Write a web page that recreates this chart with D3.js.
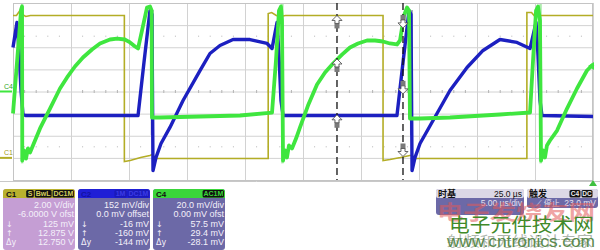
<!DOCTYPE html>
<html><head><meta charset="utf-8">
<script src="https://cdn.jsdelivr.net/npm/d3@7"></script>
<style>body{margin:0;background:#fff;}svg{display:block;}</style>
</head><body>
<svg id="chart" width="600" height="250"></svg>
<script>
// ---------------- DATA (time in µs, 5 µs/div) ----------------
// C1 (yellow) volts
const c1Time  = [0,0.3,0.6,0.8,1.1,1.5,9.6,9.6,10.1,11,11.8,12,12.3,12.7,22,22,22.3,22.7,23,23.5,31.9,31.9,32.5,33.4,34.2,34.4,34.7,44.3,44.3,44.7,45,45.4,50];
const c1Volts = [12.87,12.87,13.32,12.96,12.78,12.87,12.87,-0.33,-0.24,0.03,0.21,0.3,-0.06,-0.06,-0.06,13.05,13.14,12.87,12.78,12.87,12.87,-0.24,-0.15,0.03,0.21,0.21,-0.06,-0.06,13.14,13.14,12.78,12.87,12.87];
// C2 (blue) mV
const c2Time = [0,0.34,0.52,0.69,0.86,1.12,10.78,11.29,11.81,11.98,12.07,12.33,12.76,13.53,14.66,16.12,16.98,17.84,18.97,20.43,21.9,22.33,22.76,22.93,23.1,23.28,33.1,33.62,34.14,34.31,34.4,34.66,35.09,36.21,37.67,39.14,40.52,41.98,43.45,44.57,45.09,45.26,45.43,45.6,50];
const c2mV   = [302,474,282,7,-158,-165,-165,199,556,529,-543,-453,-357,-247,-62,144,261,316,357,357,330,295,474,247,-62,-165,-165,199,556,529,-543,-453,-357,-199,7,165,282,357,337,295,474,247,-62,-165,-172];
// C4 (green) mV
const c4Time = [0,0.7,0.78,0.8,0.95,1.12,1.29,1.47,1.72,2.33,3.19,4.05,4.66,5.34,6.03,6.81,7.5,8.36,8.97,9.66,10.09,10.52,10.78,11.12,11.55,11.81,11.95,11.98,12.67,16.12,19.57,22.33,22.67,22.93,23.1,23.19,23.28,23.45,23.62,23.79,24.05,24.4,24.74,25.43,26.21,26.9,27.59,28.36,29.05,29.74,30.52,31.21,31.9,32.5,33.1,33.36,33.71,33.97,34.14,34.22,35.09,37.67,41.98,44.57,44.83,45.09,45.26,45.43,45.52,45.69,45.86,46.03,46.29,46.9,47.76,48.62,49.48,50];
const c4mV   = [-19.9,74.1,76.8,-62.4,-53.3,-60.6,-51.5,-55.1,-48.8,-33.4,-15.4,2.7,12.7,22.6,30.7,38.0,43.4,47.0,47.9,47.0,44.3,40.7,38.9,55.1,75.9,76.8,73.2,-23.5,-23.5,-22.6,-21.7,-19.0,28.0,73.2,76.8,64.2,-62.4,-53.3,-59.7,-48.8,-51.5,-42.5,-32.5,-12.7,6.3,17.2,25.3,33.4,39.8,43.4,46.1,46.1,45.2,43.4,42.5,46.1,68.7,75.9,73.2,-24.4,-24.4,-23.5,-20.8,-19.0,28.0,73.2,76.8,64.2,-62.4,-53.3,-59.7,-48.8,-44.3,-35.3,-15.4,2.7,19.0,24.4];
// fast edges (drawn faint)
const c2FastEdges = [12.0, 34.35];
const c4FastEdges = [0.79, 23.22, 45.48];
// cursors
const cursorTimes = [27.93, 33.62];          // ↑ cursor, ↓ cursor
const cursorC1 = [12.875, 0.125];            // V
const cursorC2 = [-160, -16];                // mV
const cursorC4 = [29.4, 57.5];               // mV
const triggerLevelC4 = 23.0;                 // mV
// info panel texts
const c1Rows = ["2.00 V/div","-6.0000 V ofst","125 mV","12.875 V","12.750 V"];
const c2Rows = ["152 mV/div","0.0 mV offset","-16 mV","-160 mV","-144 mV"];
const c4Rows = ["20.0 mV/div","0.00 mV ofst","57.5 mV","29.4 mV","-28.1 mV"];
const rowIcons = ["","","↓","↑","Δy"];
const c1Tags = ["S","BwL","DC1M"];
const c2Tags = ["1M","DC1M"];
const c4Tags = ["AC1M"];
const timebaseTexts = ["时基","25.0 µs","5.00 µs/div"];
const triggerTexts = ["触发","C4","DC","停止","23.0 mV"];

// ---------------- DRAW ----------------
const svg = d3.select("#chart");
const L=13, R=593, T=3, B=180;
const x = d3.scaleLinear().domain([0,50]).range([L,R]);
const yDiv = d3.scaleLinear().domain([-4,4]).range([B,T]);
const yC1 = d3.scaleLinear().domain([-2,14]).range([B,T]);
const yC2 = d3.scaleLinear().domain([-608,608]).range([B,T]);
const yC4 = d3.scaleLinear().domain([-80,80]).range([B,T]);

// grid
const gx = svg.append("g").attr("transform",`translate(0,${B})`)
  .call(d3.axisBottom(x).tickValues(d3.range(0,51,5)).tickSize(-(B-T)).tickFormat(""));
const gy = svg.append("g").attr("transform",`translate(${L},0)`)
  .call(d3.axisLeft(yDiv).tickValues(d3.range(-4,5,1)).tickSize(-(R-L)).tickFormat(""));
[gx,gy].forEach(g=>{g.select(".domain").remove();g.selectAll("line").attr("stroke","#d2d2d2").attr("stroke-width",1);});
// minor dots
const minor = [];
d3.range(0,50.01,1).forEach(t=>{ if(t%5!==0){ [2.5,0,-2.5].forEach(d=>minor.push([t,d])); }});
svg.append("g").selectAll("rect").data(minor).join("rect")
  .attr("x",d=>x(d[0])-0.5).attr("y",d=>yDiv(d[1])-(d[1]===0?1.5:0.5))
  .attr("width",1).attr("height",d=>d[1]===0?3:1).attr("fill","#b4b4b4");
svg.append("rect").attr("x",L+0.5).attr("y",T+0.5).attr("width",R-L-1).attr("height",B-T)
  .attr("fill","none").attr("stroke","#c4c4c4");
svg.append("line").attr("x1",0).attr("x2",600).attr("y1",181.5).attr("y2",181.5).attr("stroke","#c8c8c8");

// faint fast edges
svg.append("g").selectAll("line").data(c2FastEdges).join("line")
  .attr("x1",d=>x(d)).attr("x2",d=>x(d)).attr("y1",yC2(560)).attr("y2",yC2(-300))
  .attr("stroke","#8d93a8").attr("stroke-width",3).attr("opacity",0.8);
svg.append("g").selectAll("line").data(c4FastEdges).join("line")
  .attr("x1",d=>x(d)).attr("x2",d=>x(d)).attr("y1",T+1).attr("y2",yC4(-65))
  .attr("stroke","#a6eaa6").attr("stroke-width",2.5).attr("opacity",0.9);

const mk = (ts,vs)=>ts.map((t,i)=>[t,vs[i]]);
const line = (ys)=>d3.line().x(d=>x(d[0])).y(d=>ys(d[1]));
svg.append("path").datum(mk(c1Time,c1Volts)).attr("d",line(yC1))
  .attr("fill","none").attr("stroke","#b3ad26").attr("stroke-width",1.6);
svg.append("path").datum(mk(c2Time,c2mV)).attr("d",line(yC2))
  .attr("fill","none").attr("stroke","#1c20c0").attr("stroke-width",3.4).attr("stroke-linejoin","round");
svg.append("path").datum(mk(c4Time,c4mV)).attr("d",line(yC4))
  .attr("fill","none").attr("stroke","#3fe63f").attr("stroke-width",3.8).attr("stroke-linejoin","round");

// cursors
svg.append("g").selectAll("line").data(cursorTimes).join("line")
  .attr("x1",d=>x(d)).attr("x2",d=>x(d)).attr("y1",T).attr("y2",B)
  .attr("stroke","#111").attr("stroke-width",1.3).attr("stroke-dasharray","7,4");
const markers=[];
cursorTimes.forEach((t,i)=>{
  markers.push({t, y:yC1(cursorC1[i]), up:i===0});
  markers.push({t, y:yC2(cursorC2[i]), up:i===0});
  markers.push({t, y:yC4(cursorC4[i]), up:i===0});
});
const mg = svg.append("g").selectAll("g").data(markers).join("g")
  .attr("transform",d=>`translate(${x(d.t)},${d.y}) scale(1,${d.up?1:-1})`);
mg.append("rect").attr("x",-2.5).attr("y",7).attr("width",5).attr("height",6).attr("fill","#7a7a7a");
mg.append("path").attr("d","M0,0 L5,5 L2,5 L2,8 L-2,8 L-2,5 L-5,5 Z")
  .attr("fill","#fff").attr("stroke","#555").attr("stroke-width",0.9);

// channel ground markers
svg.append("line").attr("x1",0).attr("x2",12).attr("y1",yC4(0)).attr("y2",yC4(0)).attr("stroke","#3fe63f").attr("stroke-width",2);
svg.append("text").attr("x",4).attr("y",yC4(0)-3).text("C4").attr("font-family","Liberation Sans").attr("font-size",7).attr("fill","#2aa82a");
svg.append("line").attr("x1",0).attr("x2",12).attr("y1",yC1(0)).attr("y2",yC1(0)).attr("stroke","#b3ad26").attr("stroke-width",2);
svg.append("text").attr("x",4).attr("y",yC1(0)-3).text("C1").attr("font-family","Liberation Sans").attr("font-size",7).attr("fill","#a09a20");
// trigger level marker
svg.append("path").attr("d",`M${R+1},${yC4(triggerLevelC4)-4} L${R-5},${yC4(triggerLevelC4)} L${R+1},${yC4(triggerLevelC4)+4} Z`).attr("fill","#3fe63f");
svg.append("path").attr("d",`M${R-4},186 L${R},180 L${R+4},186 Z`).attr("fill","#3fc03f");

// info boxes
const boxes=[
 {x:3,w:72,head:"#b9b12e",body:"#c59ed4",name:"C1",nameFill:"#111",tags:c1Tags,tagFill:"#111",tagText:"#d6cf5c",rows:c1Rows},
 {x:78,w:72,head:"#1f1fd6",body:"#6c69a7",name:"C2",nameFill:"#1212a0",tags:c2Tags,tagFill:"#1a1ab8",tagText:"#3a3ae6",rows:c2Rows},
 {x:153,w:72,head:"#3ad63a",body:"#6c69a7",name:"C4",nameFill:"#111",tags:c4Tags,tagFill:"#111",tagText:"#3ad63a",rows:c4Rows}
];
boxes.forEach((b,bi)=>{
  const g=svg.append("g");
  const cid="clip"+bi;
  svg.append("clipPath").attr("id",cid).append("rect").attr("x",b.x).attr("y",189).attr("width",b.w).attr("height",61).attr("rx",3);
  g.attr("clip-path",`url(#${cid})`);
  g.append("rect").attr("x",b.x).attr("y",189).attr("width",b.w).attr("height",61).attr("fill",b.body);
  g.append("rect").attr("x",b.x).attr("y",189).attr("width",b.w).attr("height",9).attr("fill",b.head);
  g.append("text").attr("x",b.x+3).attr("y",196.5).text(b.name).attr("font-family","Liberation Sans").attr("font-size",8).attr("font-weight","bold").attr("fill",b.nameFill);
  let xr=b.x+b.w-1;
  const tw=t=>t.length*4.6+3;
  b.tags.slice().reverse().forEach(t=>{
    const w=tw(t); xr-=w;
    g.append("rect").attr("x",xr).attr("y",190).attr("width",w).attr("height",7.5).attr("rx",1.5).attr("fill",b.tagFill);
    g.append("text").attr("x",xr+w/2).attr("y",196.3).attr("text-anchor","middle").text(t).attr("font-family","Liberation Sans").attr("font-size",7).attr("font-weight","bold").attr("fill",b.tagText);
    xr-=1;
  });
  b.rows.forEach((r,i)=>{
    const yy=208+i*9.3;
    g.append("text").attr("x",b.x+b.w-1).attr("y",yy).attr("text-anchor","end").text(r).attr("font-family","Liberation Sans").attr("font-size",9).attr("fill","#f4f0fa");
    if(rowIcons[i]) g.append("text").attr("x",b.x+3).attr("y",yy).text(rowIcons[i]).attr("font-family","DejaVu Sans").attr("font-size",8).attr("fill","#f4f0fa");
  });
});

// timebase / trigger boxes
const tb=svg.append("g");
tb.append("rect").attr("x",436).attr("y",189).attr("width",88).attr("height",26).attr("rx",3).attr("fill","#6c69a7");
tb.append("rect").attr("x",436).attr("y",189).attr("width",88).attr("height",9).attr("rx",2).attr("fill","#dcd8e6");
tb.append("text").attr("x",438).attr("y",197).text(timebaseTexts[0]).attr("font-family","Noto Sans CJK SC").attr("font-size",9).attr("font-weight","bold").attr("fill","#111");
tb.append("text").attr("x",522).attr("y",197).attr("text-anchor","end").text(timebaseTexts[1]).attr("font-family","Liberation Sans").attr("font-size",8.5).attr("fill","#111");
tb.append("text").attr("x",522).attr("y",206).attr("text-anchor","end").text(timebaseTexts[2]).attr("font-family","Liberation Sans").attr("font-size",8.5).attr("fill","#e4e0f0");
tb.append("rect").attr("x",527).attr("y",189).attr("width",71).attr("height",19).attr("rx",3).attr("fill","#6c69a7");
tb.append("rect").attr("x",527).attr("y",189).attr("width",71).attr("height",9).attr("rx",2).attr("fill","#dcd8e6");
tb.append("text").attr("x",529).attr("y",197).text(triggerTexts[0]).attr("font-family","Noto Sans CJK SC").attr("font-size",9).attr("font-weight","bold").attr("fill","#111");
[[triggerTexts[1],575],[triggerTexts[2],587]].forEach(([t,xx])=>{
  tb.append("rect").attr("x",xx-5.5).attr("y",190).attr("width",11).attr("height",7.5).attr("rx",1.5).attr("fill","#111");
  tb.append("text").attr("x",xx).attr("y",196.3).attr("text-anchor","middle").text(t).attr("font-family","Liberation Sans").attr("font-size",6.5).attr("font-weight","bold").attr("fill","#eee");
});
tb.append("text").attr("x",536).attr("y",206).text("⟋ "+triggerTexts[3]).attr("font-family","Noto Sans CJK SC").attr("font-size",8).attr("fill","#e4e0f0");
tb.append("text").attr("x",596).attr("y",206).attr("text-anchor","end").text(triggerTexts[4]).attr("font-family","Liberation Sans").attr("font-size",8.5).attr("fill","#e4e0f0");

// watermark
const wm=svg.append("g");
wm.append("text").attr("x",437).attr("y",220).attr("textLength",158).attr("lengthAdjust","spacingAndGlyphs")
  .text("电子发烧友网").attr("font-family","Noto Sans CJK SC").attr("font-size",20).attr("font-weight","bold").attr("fill","#e25a5a").attr("opacity",0.55);
wm.append("text").attr("x",449).attr("y",232).attr("textLength",145).attr("lengthAdjust","spacingAndGlyphs")
  .text("电子元件技术网").attr("font-family","Noto Sans CJK SC").attr("font-size",19).attr("fill","#3f8a2a");
wm.append("text").attr("x",447).attr("y",246).attr("textLength",146).attr("lengthAdjust","spacingAndGlyphs")
  .text("射频和无线设计专家").attr("font-family","Noto Sans CJK SC").attr("font-size",14).attr("fill","#8e9a8e").attr("opacity",0.7);
wm.append("text").attr("x",447).attr("y",247).attr("textLength",148).attr("lengthAdjust","spacingAndGlyphs")
  .text("www.cntronics.com").attr("font-family","Liberation Sans").attr("font-size",16).attr("fill","#5a8a4c");
</script>
</body></html>
